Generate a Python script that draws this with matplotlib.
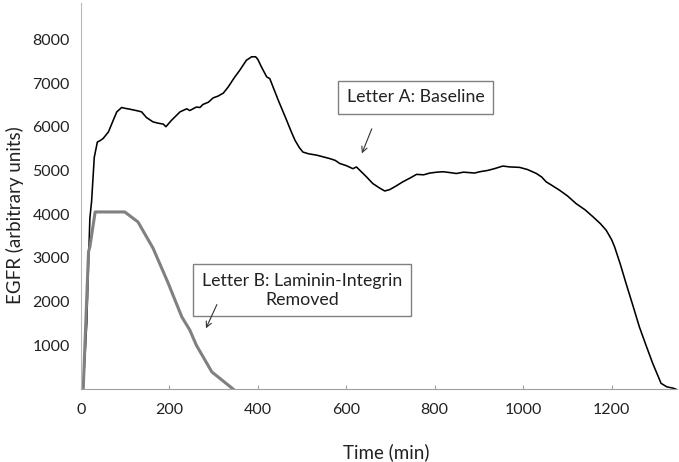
import matplotlib.pyplot as plt

plt.rcParams['font.family'] = ['Lato', 'DejaVu Sans']

# Letter A: baseline (black, noisy trace)
time_a = [0, 5, 13, 20, 24, 30, 32, 37, 43, 50, 62, 73, 81, 92, 100, 111, 125, 137, 148,
          163, 175, 186, 192, 205, 216, 224, 239, 246, 261, 269, 276, 288, 299, 310, 322,
          333, 348, 359, 374, 386, 395, 400, 408, 420, 427, 446, 465, 475, 484, 494, 502,
          515, 533, 548, 563, 575, 585, 600, 615, 623, 638, 646, 660, 675, 687, 698, 712,
          728, 745, 759, 775, 789, 805, 819, 835, 849, 865, 879, 890, 902, 920, 935, 954,
          970, 992, 1010, 1030, 1042, 1052, 1068, 1082, 1100, 1120, 1140, 1158, 1175, 1188,
          1200, 1207, 1220, 1233, 1248, 1263, 1278, 1293, 1305, 1312, 1325, 1339, 1345]
egfr_a = [0, 0, 1500, 3900, 4300, 5300, 5400, 5650, 5680, 5730, 5880, 6150, 6340, 6440,
          6420, 6400, 6370, 6340, 6210, 6110, 6080, 6060, 6000, 6150, 6260, 6340, 6410, 6370,
          6450, 6440, 6510, 6560, 6660, 6700, 6770, 6910, 7140, 7290, 7520, 7600, 7600, 7540,
          7370, 7140, 7100, 6610, 6150, 5900, 5690, 5520, 5420, 5380, 5350, 5310, 5270, 5230,
          5160, 5110, 5040, 5080, 4930, 4850, 4700, 4600, 4530, 4560, 4640, 4740, 4830, 4910,
          4900, 4940, 4960, 4970, 4950, 4930, 4960, 4950, 4940, 4970, 5000, 5040, 5100, 5080,
          5070, 5020, 4930, 4850, 4740, 4640, 4550, 4420, 4240, 4100, 3940, 3780, 3630, 3420,
          3250, 2850, 2410, 1920, 1420, 1000, 590, 300, 130, 50, 20, 0]

# Letter B: laminin-integrin removed (grey, piecewise)
time_b = [2, 5, 17, 20, 32, 99, 129, 163, 196, 228, 246, 261, 296, 344]
egfr_b = [0, 0, 3140, 3250, 4050, 4050, 3820, 3220, 2450, 1650, 1350, 1000, 390, 0]

fig = plt.figure(figsize=(6.79, 4.62), dpi=100)
ax = fig.add_axes([0.1193, 0.158, 0.8777, 0.8355])

ax.plot(time_a, egfr_a, color='black', lw=1.15)
ax.plot(time_b, egfr_b, color='#808080', lw=2.2)

ax.set_xlim(0, 1348)
ax.set_ylim(0, 8830)
ax.set_xticks([0, 200, 400, 600, 800, 1000, 1200])
ax.set_yticks([1000, 2000, 3000, 4000, 5000, 6000, 7000, 8000])

for side in ['top', 'right']:
    ax.spines[side].set_visible(False)
ax.spines['left'].set_color('#b8b8b8')
ax.spines['bottom'].set_color('#a0a0a0')
ax.tick_params(axis='x', colors='#a0a0a0', labelcolor='#222222', labelsize=11.5,
               length=3, direction='in', pad=10)
ax.tick_params(axis='y', colors='#b8b8b8', labelcolor='#222222', labelsize=11.5,
               length=0, pad=8)

ax.set_xlabel('Time (min)', fontsize=13.5, color='#222222')
ax.xaxis.set_label_coords(0.513, -0.14)
ax.set_ylabel('EGFR (arbitrary units)', fontsize=13.5, color='#222222')
ax.yaxis.set_label_coords(-0.095, 0.45)

box = dict(boxstyle='square,pad=0.5', fc='white', ec='#808080', lw=1)
ax.text(757, 6670, 'Letter A: Baseline', fontsize=12.8, ha='center', va='center',
        color='#222222', bbox=box)
ax.annotate('', xy=(633, 5330), xytext=(660, 6010),
            arrowprops=dict(arrowstyle='->', color='#333333', lw=0.8))
ax.text(500, 2260, 'Letter B: Laminin-Integrin\nRemoved', fontsize=12.8, ha='center',
        va='center', color='#222222', linespacing=1.2, bbox=box)
ax.annotate('', xy=(280, 1330), xytext=(310, 1990),
            arrowprops=dict(arrowstyle='->', color='#333333', lw=0.8))

fig.savefig('out.png', dpi=100)
